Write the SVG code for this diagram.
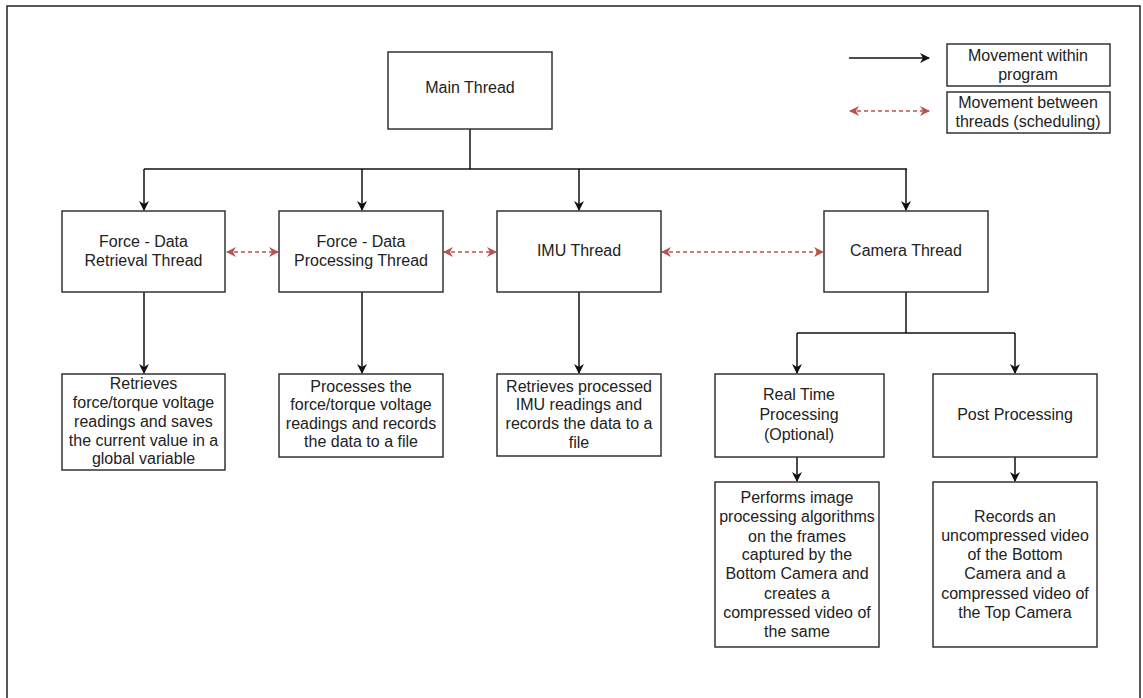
<svg xmlns="http://www.w3.org/2000/svg" width="1143" height="698" viewBox="0 0 1143 698">
<defs>
<marker id="ab" viewBox="0 0 10 10" refX="9" refY="5" markerWidth="10" markerHeight="10" markerUnits="userSpaceOnUse" orient="auto">
<path d="M0,0 L10,5 L0,10 L3,5 Z" fill="#111"/>
</marker>
<marker id="ar" viewBox="0 0 10 10" refX="9" refY="5" markerWidth="10" markerHeight="10" markerUnits="userSpaceOnUse" orient="auto-start-reverse">
<path d="M0,0 L10,5 L0,10 L3,5 Z" fill="#b85450"/>
</marker>
<style>
.box{fill:#fff;stroke:#333;stroke-width:1.5}
.t{font-family:"Liberation Sans",Arial,sans-serif;font-size:16px;fill:#222;text-anchor:middle}
.c{fill:none;stroke:#111;stroke-width:1.5}
.d{fill:none;stroke:#b85450;stroke-width:1.3;stroke-dasharray:4,3}
</style>
</defs>
<rect x="0" y="0" width="1143" height="698" fill="#fff"/>
<rect x="7" y="6" width="1133" height="694" fill="none" stroke="#222" stroke-width="1.5"/>

<g id="legend">
<line class="c" x1="849" y1="58" x2="929" y2="58" marker-end="url(#ab)"/>
<line class="d" x1="850" y1="111" x2="929" y2="111" marker-start="url(#ar)" marker-end="url(#ar)"/>
<rect class="box" x="947" y="44" width="163" height="42"/>
<text class="t" x="1028" y="61">Movement within</text>
<text class="t" x="1028" y="80">program</text>
<rect class="box" x="947" y="92" width="163" height="41"/>
<text class="t" x="1028" y="108">Movement between</text>
<text class="t" x="1028" y="127">threads (scheduling)</text>
</g>

<g id="connectors">
<polyline class="c" points="470,129 470,169"/>
<line class="c" x1="144" y1="169" x2="907" y2="169"/>
<line class="c" x1="144" y1="169" x2="144" y2="210" marker-end="url(#ab)"/>
<line class="c" x1="362" y1="169" x2="362" y2="210" marker-end="url(#ab)"/>
<line class="c" x1="579" y1="169" x2="579" y2="210" marker-end="url(#ab)"/>
<line class="c" x1="906" y1="169" x2="906" y2="210" marker-end="url(#ab)"/>
<line class="d" x1="227" y1="252" x2="278" y2="252" marker-start="url(#ar)" marker-end="url(#ar)"/>
<line class="d" x1="444" y1="252" x2="496" y2="252" marker-start="url(#ar)" marker-end="url(#ar)"/>
<line class="d" x1="662" y1="252" x2="823" y2="252" marker-start="url(#ar)" marker-end="url(#ar)"/>
<line class="c" x1="144" y1="292" x2="144" y2="373" marker-end="url(#ab)"/>
<line class="c" x1="362" y1="292" x2="362" y2="373" marker-end="url(#ab)"/>
<line class="c" x1="579" y1="292" x2="579" y2="373" marker-end="url(#ab)"/>
<line class="c" x1="906" y1="292" x2="906" y2="333"/>
<line class="c" x1="797" y1="333" x2="1015" y2="333"/>
<line class="c" x1="797" y1="333" x2="797" y2="373" marker-end="url(#ab)"/>
<line class="c" x1="1015" y1="333" x2="1015" y2="373" marker-end="url(#ab)"/>
<line class="c" x1="797" y1="457" x2="797" y2="481" marker-end="url(#ab)"/>
<line class="c" x1="1015" y1="457" x2="1015" y2="481" marker-end="url(#ab)"/>
</g>

<g id="main">
<rect class="box" x="388" y="52" width="164" height="77"/>
<text class="t" x="470" y="93">Main Thread</text>
</g>

<g id="force-retrieval">
<rect class="box" x="62" y="211" width="163" height="81"/>
<text class="t" x="143.5" y="247">Force - Data</text>
<text class="t" x="143.5" y="266">Retrieval Thread</text>
</g>

<g id="force-processing">
<rect class="box" x="279" y="211" width="164" height="81"/>
<text class="t" x="361" y="247">Force - Data</text>
<text class="t" x="361" y="266">Processing Thread</text>
</g>

<g id="imu">
<rect class="box" x="497" y="211" width="164" height="81"/>
<text class="t" x="579" y="256">IMU Thread</text>
</g>

<g id="camera">
<rect class="box" x="824" y="211" width="164" height="81"/>
<text class="t" x="906" y="256">Camera Thread</text>
</g>

<g id="force-retrieval-desc">
<rect class="box" x="62" y="374" width="163" height="96"/>
<text class="t" x="143.5" y="389">Retrieves</text>
<text class="t" x="143.5" y="408">force/torque voltage</text>
<text class="t" x="143.5" y="427">readings and saves</text>
<text class="t" x="143.5" y="446">the current value in a</text>
<text class="t" x="143.5" y="464">global variable</text>
</g>

<g id="force-processing-desc">
<rect class="box" x="279" y="374" width="164" height="83"/>
<text class="t" x="361" y="392">Processes the</text>
<text class="t" x="361" y="410">force/torque voltage</text>
<text class="t" x="361" y="429">readings and records</text>
<text class="t" x="361" y="447">the data to a file</text>
</g>

<g id="imu-desc">
<rect class="box" x="497" y="374" width="164" height="82"/>
<text class="t" x="579" y="392">Retrieves processed</text>
<text class="t" x="579" y="410">IMU readings and</text>
<text class="t" x="579" y="429">records the data to a</text>
<text class="t" x="579" y="448">file</text>
</g>

<g id="realtime">
<rect class="box" x="715" y="374" width="169" height="83"/>
<text class="t" x="799" y="400">Real Time</text>
<text class="t" x="799" y="420">Processing</text>
<text class="t" x="799" y="440">(Optional)</text>
</g>

<g id="post">
<rect class="box" x="933" y="374" width="164" height="83"/>
<text class="t" x="1015" y="420">Post Processing</text>
</g>

<g id="realtime-desc">
<rect class="box" x="715" y="482" width="164" height="165"/>
<text class="t" x="797" y="503">Performs image</text>
<text class="t" x="797" y="522">processing algorithms</text>
<text class="t" x="797" y="542">on the frames</text>
<text class="t" x="797" y="560">captured by the</text>
<text class="t" x="797" y="579">Bottom Camera and</text>
<text class="t" x="797" y="599">creates a</text>
<text class="t" x="797" y="618">compressed video of</text>
<text class="t" x="797" y="637">the same</text>
</g>

<g id="post-desc">
<rect class="box" x="933" y="482" width="164" height="165"/>
<text class="t" x="1015" y="522">Records an</text>
<text class="t" x="1015" y="541">uncompressed video</text>
<text class="t" x="1015" y="560">of the Bottom</text>
<text class="t" x="1015" y="579">Camera and a</text>
<text class="t" x="1015" y="599">compressed video of</text>
<text class="t" x="1015" y="618">the Top Camera</text>
</g>
</svg>
